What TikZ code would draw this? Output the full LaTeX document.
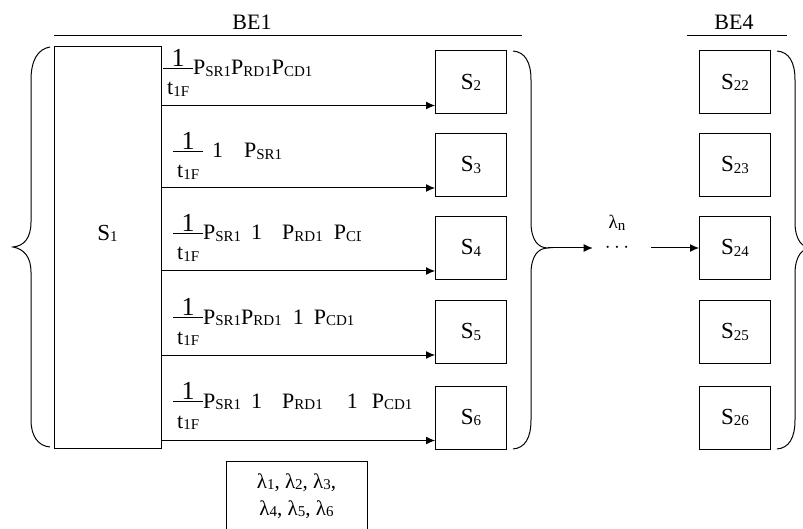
\documentclass[tikz,border=0pt]{standalone}
\usepackage{fontspec}
\setmainfont{Liberation Serif}
\usepackage{trimclip}
\usetikzlibrary{arrows.meta}

\newcommand{\sbs}[1]{\raisebox{-1.5pt}{\fontsize{15}{15}\selectfont #1}}
\newcommand{\frc}{\raisebox{-20pt}{\renewcommand{\arraystretch}{0}\setlength{\arrayrulewidth}{0.8pt}%
  \begin{tabular}[b]{@{\hspace{4pt}}c@{\hspace{4pt}}}\fontsize{26}{26}\selectfont\rule[-2pt]{0pt}{19pt}1\\\hline\rule{0pt}{26pt}t\sbs{1F}\end{tabular}}}

\begin{document}
\begin{tikzpicture}[x=1pt,y=-1pt,
    box/.style={draw,line width=1pt,minimum width=71pt,minimum height=63pt,inner sep=0pt,font=\fontsize{23}{27}\selectfont},
    arr/.style={-{Latex[length=9pt,width=8pt]},line width=1pt},
    brc/.style={line width=1pt},
    rate/.style={anchor=base west,inner sep=0pt,font=\fontsize{22}{26}\selectfont}]
    \useasboundingbox (0,0) rectangle (803,529);
    \clip (0,0) rectangle (803,529);

    % headings
    \node[font=\fontsize{22}{26}\selectfont] (be1) at (252,22) {BE1};
    \node[font=\fontsize{22}{26}\selectfont] (be4) at (734,22) {BE4};
    \draw[brc] (54,36) -- (522,36);
    \draw[brc] (687,36) -- (787,36);

    \node[box,minimum width=107pt,minimum height=401pt,text depth=30pt] (S1) at (107.5,247.5) {S\sbs{1}};

    \foreach \k/\yy in {2/82.5,3/165,4/248,5/332,6/417.5} {
        \node[box] (S\k) at (471,\yy) {S\sbs{\k}};
        \node[box] (S2\k) at (735,\yy) {S\sbs{2\k}};
        \coordinate (a\k) at ([yshift=9pt]S\k.south west);
        \draw[arr] (S1.east |- a\k) -- (a\k);
    }

    % rates
    \node[rate] (r2) at (163,75) {\frc P\sbs{SR1}P\sbs{RD1}P\sbs{CD1}};
    \node[rate] (r3) at (173,158) {\frc\hspace{9pt}1\hspace{21pt}P\sbs{SR1}};
    \node[rate] (r4) at (173,240) {\frc P\sbs{SR1}\hspace{10pt}1\hspace{20pt}P\sbs{RD1}\hspace{11pt}P\sbs{C\clipbox{0pt 0pt 6pt 0pt}{D}}};
    \node[rate] (r5) at (173,324) {\frc P\sbs{SR1}P\sbs{RD1}\hspace{11pt}1\hspace{10pt}P\sbs{CD1}};
    \node[rate] (r6) at (173,408) {\frc P\sbs{SR1}\hspace{10pt}1\hspace{20pt}P\sbs{RD1}\hspace{24pt}1\hspace{14pt}P\sbs{CD1}};

    % braces
    \draw[brc] (50,47) .. controls (38,49) and (31,60) .. (31,80) -- (31,222)
        .. controls (31,238) and (24,246) .. (13,247)
        .. controls (24,249) and (31,257) .. (31,272) -- (31,420)
        .. controls (31,436) and (38,446) .. (50,447);
    \coordinate (tip1) at (548,248);
    \draw[brc] (513,51) .. controls (525,52) and (531,62) .. (531,80) -- (531,222)
        .. controls (531,240) and (538,248) .. (tip1)
        .. controls (538,248) and (531,256) .. (531,274) -- (531,420)
        .. controls (531,438) and (525,448) .. (513,449);
    \draw[brc] (777,51) .. controls (789,52) and (795,62) .. (795,80) -- (795,222)
        .. controls (795,240) and (802,248) .. (812,248)
        .. controls (802,248) and (795,256) .. (795,274) -- (795,420)
        .. controls (795,438) and (789,448) .. (777,449);

    \node[inner sep=0pt,text height=10pt,text depth=0pt,font=\fontsize{20}{24}\selectfont] (dots) at (617,248) {$\cdots$};
    \node[inner sep=1pt,font=\fontsize{19}{22}\selectfont] (lamn) at (617,223) {λ\sbs{n}};
    \draw[arr] (tip1) -- ([xshift=-12pt]dots.west);
    \draw[arr] ([xshift=22pt]dots.east) -- (S24.west);

    \node[draw,line width=1pt,anchor=north,minimum width=141pt,inner ysep=12pt,align=center,
        font=\fontsize{21}{27}\selectfont] (lam) at (296.5,461)
        {λ\sbs{1}, λ\sbs{2}, λ\sbs{3},\\ λ\sbs{4}, λ\sbs{5}, λ\sbs{6}\rule[-20pt]{0pt}{20pt}};
\end{tikzpicture}
\end{document}
